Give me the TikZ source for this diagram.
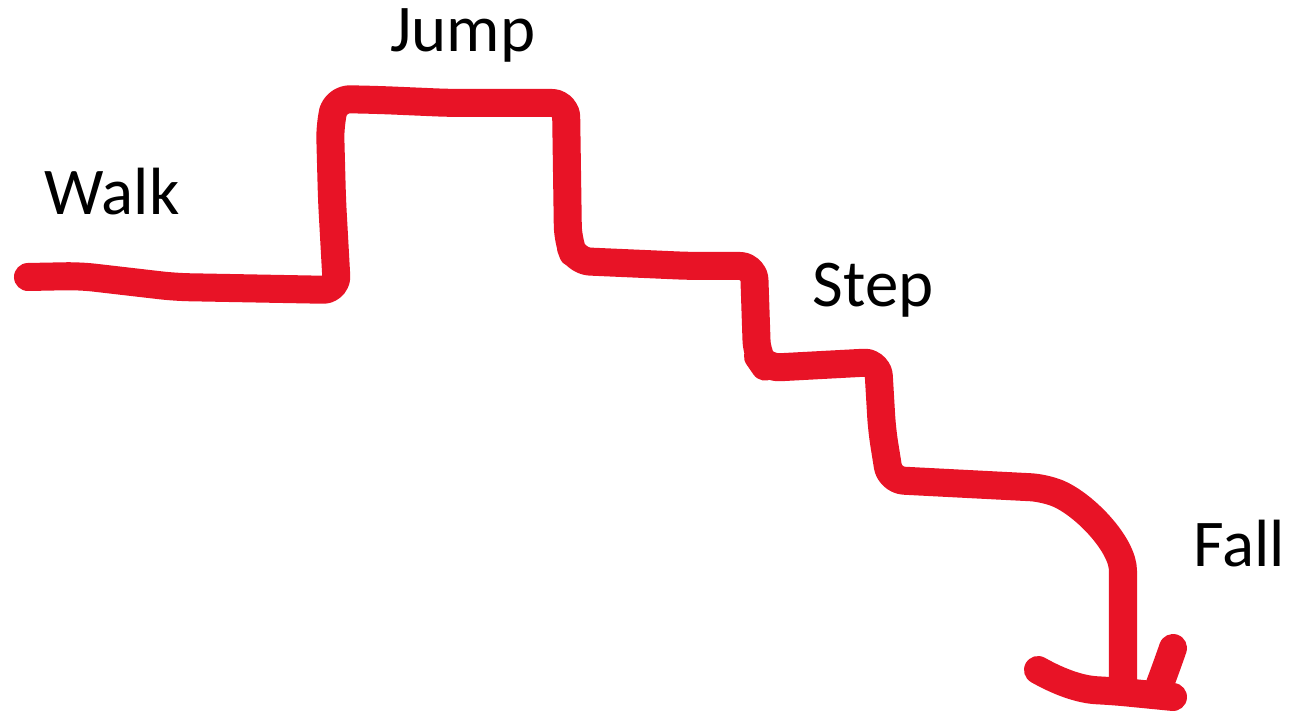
\documentclass[tikz,border=0pt]{standalone}
\usepackage{fontspec}
\setmainfont{Carlito}
\definecolor{penred}{RGB}{232,19,38}
\tikzset{
  pen/.style={line width=0.28cm, draw=penred, line cap=round, line join=round, rounded corners=4pt},
  movelabel/.style={font=\fontsize{19}{22}\selectfont, anchor=base, inner sep=0pt},
}
\begin{document}
\begin{tikzpicture}[x=0.01cm, y=-0.01cm]
\useasboundingbox (0,0) rectangle (1293,716);
\draw[pen] (28,277) -- (80,276) -- (175,287) -- (337,290) -- (332,200) -- (330,125)
  -- (336,99) -- (380,100) -- (450,103) -- (566,103) -- (568,240) -- (576,261)
  -- (690,266) -- (754,266) -- (757,355) -- (766,368) -- (878,362) -- (882,430)
  -- (890,480) -- (1045,488) .. controls (1085,505) and (1123,545) .. (1123,585)
  -- (1123,690);
\draw[pen] (1038,670) .. controls (1070,688) and (1090,690) .. (1112,691) -- (1173,697);
\draw[pen] (1173,648) -- (1166,668) -- (1157,692);
\node[movelabel] (walk) at (112,215) {Walk};
\node[movelabel] (jump) at (463,52) {Jump};
\node[movelabel] (step) at (873,307) {Step};
\node[movelabel] (fall) at (1239,567) {Fall};
\end{tikzpicture}
\end{document}
